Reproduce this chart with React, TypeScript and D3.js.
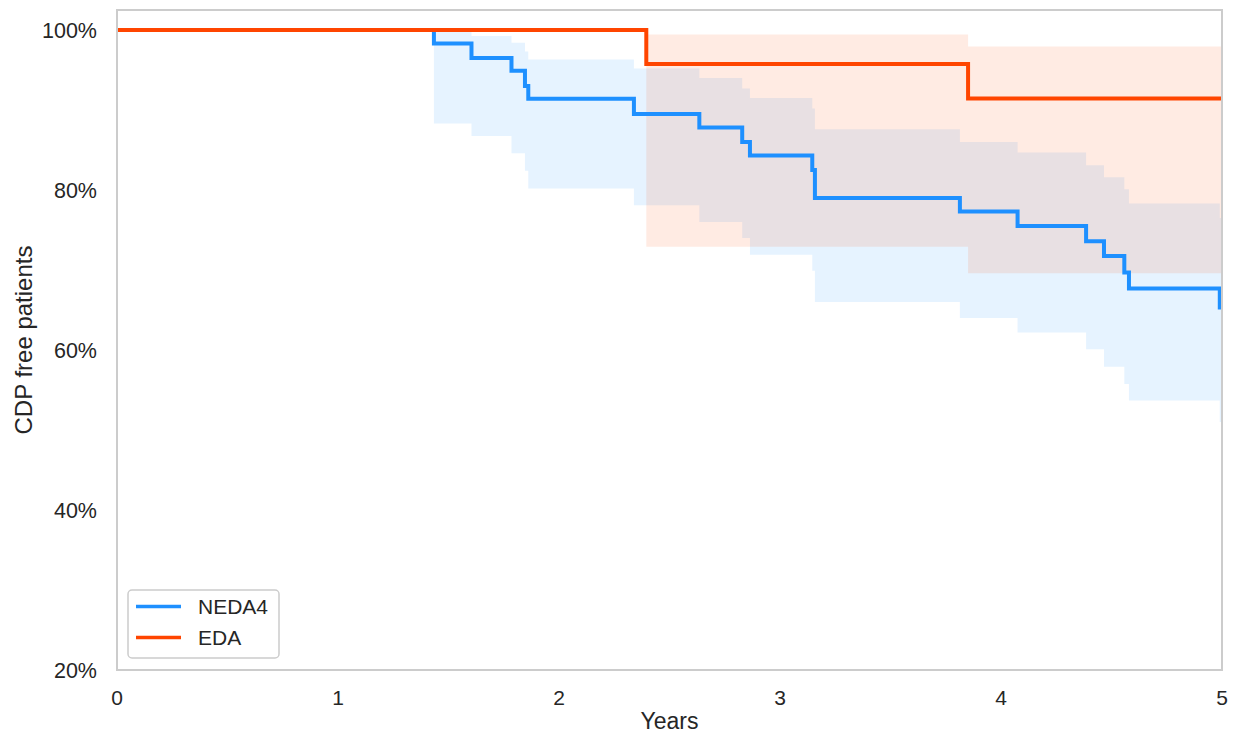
import React, { useEffect, useRef } from 'react';
import * as d3 from 'd3';

// Kaplan-Meier estimates (years, % CDP free)
const neda4Times = [0, 1.434, 1.604, 1.785, 1.846, 1.861, 2.339, 2.635, 2.829, 2.864, 3.146, 3.158, 3.814, 4.075, 4.385, 4.466, 4.558, 4.579, 4.99];
const neda4Surv = [100, 98.3, 96.5, 94.9, 93.0, 91.4, 89.5, 87.8, 86.0, 84.3, 82.5, 79.0, 77.3, 75.5, 73.6, 71.75, 69.7, 67.7, 65.3];
const neda4Upper = [100, 99.8, 99.25, 98.4, 97.3, 96.3, 95.2, 94.0, 92.7, 91.5, 90.2, 87.6, 86.0, 84.7, 83.1, 81.6, 80.1, 78.3, 76.5];
const neda4Lower = [100, 88.3, 86.75, 84.6, 82.4, 80.2, 78.1, 76.0, 74.0, 71.9, 69.9, 66.0, 64.0, 62.2, 60.1, 57.9, 55.75, 53.7, 51.0];

const edaTimes = [0, 2.395, 3.851];
const edaSurv = [100, 95.75, 91.45];
const edaUpper = [100, 99.45, 97.95];
const edaLower = [100, 72.9, 69.6];

const xTicks = [0, 1, 2, 3, 4, 5];
const yTicks = [20, 40, 60, 80, 100];

const seriesNames = ['NEDA4', 'EDA'];
const seriesColors = ['#1e90ff', '#ff4500'];

const WIDTH = 1244;
const HEIGHT = 735;

const App = () => {
  const chartRef = useRef<HTMLDivElement>(null);

  useEffect(() => {
    drawChart();
  }, []);

  const drawChart = () => {
    const margin = { top: 10, right: 22, bottom: 65, left: 117 };
    const innerW = WIDTH - margin.left - margin.right;
    const innerH = HEIGHT - margin.top - margin.bottom;
    const font = '"Liberation Sans", Arial, sans-serif';
    const textColor = '#262626';

    d3.select(chartRef.current).select('svg').remove();

    const svg = d3.select(chartRef.current)
      .append('svg')
      .attr('width', WIDTH)
      .attr('height', HEIGHT)
      .style('display', 'block');

    const g = svg.append('g')
      .attr('transform', `translate(${margin.left},${margin.top})`);

    const x = d3.scaleLinear().domain([0, 5]).range([0, innerW]);
    const y = d3.scaleLinear().domain([20, 102.5]).range([innerH, 0]);

    svg.append('defs').append('clipPath')
      .attr('id', 'plot-clip')
      .append('rect')
      .attr('width', innerW)
      .attr('height', innerH);

    const plot = g.append('g').attr('clip-path', 'url(#plot-clip)');

    const build = (times, surv, upper, lower) => {
      const rows = times.map((t, i) => ({ t, s: surv[i], hi: upper[i], lo: lower[i] }));
      const last = rows[rows.length - 1];
      rows.push({ t: 5, s: last.s, hi: last.hi, lo: last.lo });
      return rows;
    };

    const series = [
      build(neda4Times, neda4Surv, neda4Upper, neda4Lower),
      build(edaTimes, edaSurv, edaUpper, edaLower),
    ];

    const area = d3.area<any>()
      .x(d => x(d.t))
      .y0(d => y(d.lo))
      .y1(d => y(d.hi))
      .curve(d3.curveStepAfter);

    const line = d3.line<any>()
      .x(d => x(d.t))
      .y(d => y(d.s))
      .curve(d3.curveStepAfter);

    series.forEach((rows, i) => {
      plot.append('path')
        .attr('d', area(rows))
        .style('fill', seriesColors[i])
        .style('fill-opacity', 0.11)
        .style('stroke', 'none');
    });

    series.forEach((rows, i) => {
      plot.append('path')
        .attr('d', line(rows))
        .style('fill', 'none')
        .style('stroke', seriesColors[i])
        .style('stroke-width', 4);
    });

    // frame
    g.append('rect')
      .attr('width', innerW)
      .attr('height', innerH)
      .style('fill', 'none')
      .style('stroke', '#cccccc')
      .style('stroke-width', 2);

    // tick labels
    g.selectAll('.xtick')
      .data(xTicks)
      .enter()
      .append('text')
      .attr('x', d => x(d))
      .attr('y', innerH + 35)
      .attr('text-anchor', 'middle')
      .style('font-family', font)
      .style('font-size', '21px')
      .style('fill', textColor)
      .text(d => d);

    g.selectAll('.ytick')
      .data(yTicks)
      .enter()
      .append('text')
      .attr('x', -20)
      .attr('y', d => y(d))
      .attr('dy', '0.36em')
      .attr('text-anchor', 'end')
      .style('font-family', font)
      .style('font-size', '21.5px')
      .style('fill', textColor)
      .text(d => `${d}%`);

    // axis labels
    g.append('text')
      .attr('x', innerW / 2)
      .attr('y', innerH + 59)
      .attr('text-anchor', 'middle')
      .style('font-family', font)
      .style('font-size', '23px')
      .style('fill', textColor)
      .text('Years');

    g.append('text')
      .attr('transform', `translate(${-85},${innerH / 2}) rotate(-90)`)
      .attr('text-anchor', 'middle')
      .style('font-family', font)
      .style('font-size', '24px')
      .style('fill', textColor)
      .text('CDP free patients');

    // legend
    const legend = g.append('g').attr('transform', `translate(11,${innerH - 80})`);
    legend.append('rect')
      .attr('width', 151)
      .attr('height', 68)
      .attr('rx', 4)
      .style('fill', 'white')
      .style('fill-opacity', 0.8)
      .style('stroke', '#cccccc')
      .style('stroke-width', 1.5);

    seriesNames.forEach((name, i) => {
      const ly = 16.5 + i * 31;
      legend.append('line')
        .attr('x1', 8)
        .attr('x2', 53)
        .attr('y1', ly)
        .attr('y2', ly)
        .style('stroke', seriesColors[i])
        .style('stroke-width', 3.5);
      legend.append('text')
        .attr('x', 70)
        .attr('y', ly)
        .attr('dy', '0.36em')
        .style('font-family', font)
        .style('font-size', '21px')
        .style('fill', textColor)
        .text(name);
    });
  };

  return (
    <div style={{ position: 'absolute', left: 0, top: 0 }} ref={chartRef}></div>
  );
};

export default App;
